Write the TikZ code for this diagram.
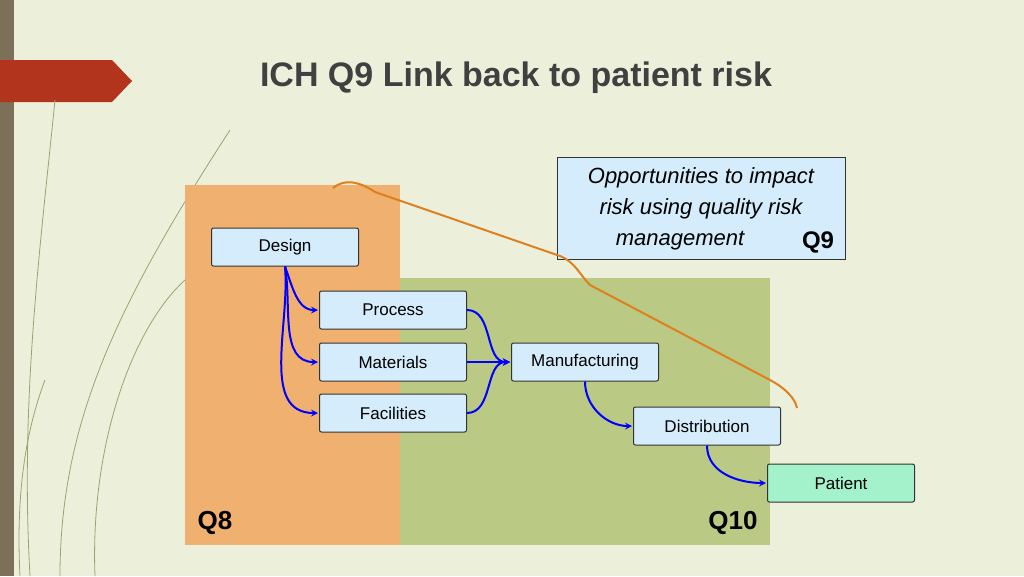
\documentclass[tikz,border=0pt]{standalone}
\usepackage{fontspec}
\setmainfont{Liberation Sans}
\usepackage{tikz}
\usetikzlibrary{positioning}
\definecolor{bgc}{RGB}{236,240,218}
\definecolor{barc}{RGB}{125,112,88}
\definecolor{redc}{RGB}{178,52,28}
\definecolor{titlec}{RGB}{64,64,64}
\definecolor{qeight}{RGB}{240,176,112}
\definecolor{qten}{RGB}{186,201,132}
\definecolor{boxc}{RGB}{212,236,252}
\definecolor{patc}{RGB}{164,242,204}
\definecolor{bracec}{RGB}{222,128,30}
\definecolor{grassc}{RGB}{150,165,110}
\tikzset{
  stepbox/.style={draw=black!80, rounded corners=2pt, fill=boxc, line width=1pt,
    minimum width=147pt, minimum height=38pt, font=\fontsize{17}{19}\selectfont},
  flow/.style={->, >=stealth, line width=2pt, blue, shorten >=1pt},
}
\begin{document}
\begin{tikzpicture}[x=1pt,y=-1pt]
\useasboundingbox (0,0) rectangle (1024,576);
\fill[bgc] (0,0) rectangle (1024,576);
\fill[barc] (0,0) rectangle (14,576);
\fill[redc] (0,60) -- (112,60) -- (132,81) -- (112,102) -- (0,102) -- cycle;
% grass strokes
\draw[grassc, line width=0.8pt] (30,576) .. controls (20,400) and (40,250) .. (55,100);
\draw[grassc, line width=0.8pt] (60,576) .. controls (60,420) and (120,300) .. (230,130);
\draw[grassc, line width=0.8pt] (95,576) .. controls (90,450) and (130,330) .. (185,280);
\draw[grassc, line width=0.8pt] (20,576) .. controls (15,480) and (30,420) .. (45,380);
\node[font=\fontsize{34}{40}\selectfont\bfseries, text=titlec] (title) at (516,78) {ICH Q9 Link back to patient risk};
% regions
\fill[qeight] (185,185) rectangle (400,545);
\fill[qten] (400,278) rectangle (770,545);
\node[font=\fontsize{26}{28}\selectfont\bfseries] (q8) at (215,523) {Q8};
\node[font=\fontsize{26}{28}\selectfont\bfseries] (q10) at (733,523) {Q10};
% callout
\node[draw=black!80, line width=1pt, fill=boxc, minimum width=288pt, minimum height=102pt] (note) at (701,208) {};
\node[align=center, font=\fontsize{22}{31}\selectfont\itshape] (notetxt) at (701,209) {Opportunities to impact\\risk using quality risk\\management\hspace{1.9em}\mbox{}};
\node[font=\fontsize{24}{26}\selectfont\bfseries] (q9) at (818,242) {Q9};
\draw[bracec, line width=2pt] (333,188) .. controls (345,178) and (360,182) .. (375,192)
  -- (560,256) .. controls (575,262) and (580,275) .. (590,285)
  -- (770,380) .. controls (785,388) and (795,398) .. (797,408);
% steps
\node[stepbox] (design) at (285,247) {Design};
\node[stepbox] (process) at (393,310) {Process};
\node[stepbox] (materials) at (393,362) {Materials};
\node[stepbox] (facilities) at (393,413) {Facilities};
\node[stepbox] (manuf) at (585,362) {Manufacturing};
\node[stepbox] (distrib) at (707,426) {Distribution};
\node[stepbox, fill=patc] (patient) at (841,483) {Patient};
\draw[flow] (design.south) to[out=-70, in=180] (process.west);
\draw[flow] (design.south) to[out=-80, in=180] (materials.west);
\draw[flow] (design.south) to[out=-85, in=180] (facilities.west);
\draw[flow] (process.east) to[out=0, in=180] (manuf.west);
\draw[flow] (materials.east) -- (manuf.west);
\draw[flow] (facilities.east) to[out=0, in=180] (manuf.west);
\draw[flow] (manuf.south) to[out=-90, in=180] (distrib.west);
\draw[flow] (distrib.south) to[out=-90, in=180] (patient.west);
\end{tikzpicture}
\end{document}
